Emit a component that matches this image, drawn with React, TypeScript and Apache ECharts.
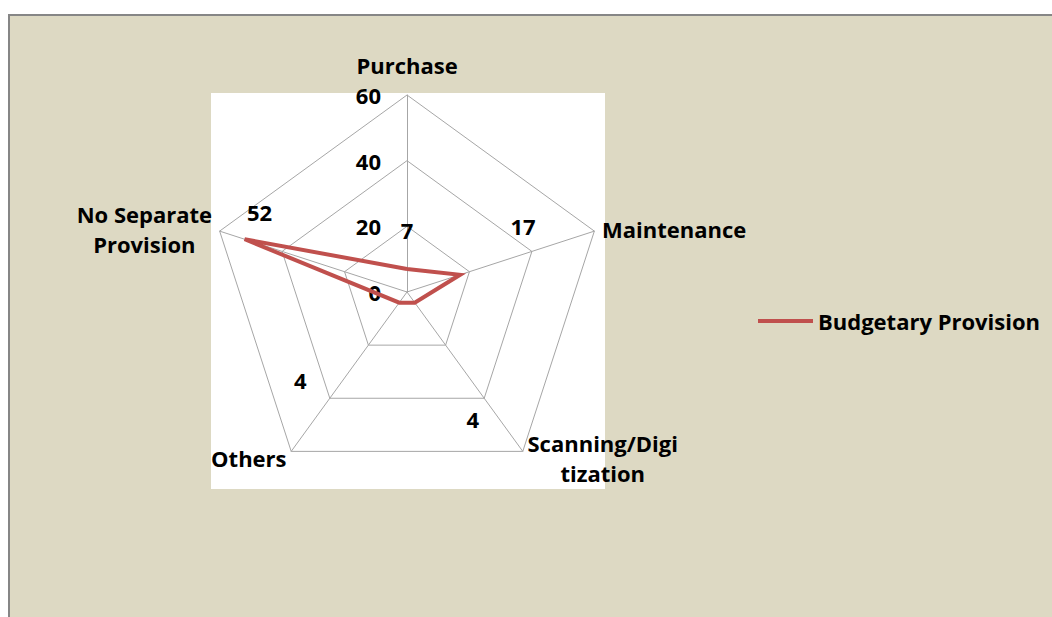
import React, { useEffect, useRef } from 'react';
import * as echarts from 'echarts';

// ---- data ----
const categories = ['Purchase', 'Maintenance', 'Scanning/Digi\ntization', 'Others', 'No Separate\nProvision'];
const budgetaryProvision = [7, 17, 4, 4, 52];
const seriesName = 'Budgetary Provision';
const axisMin = 0;
const axisMax = 60;
const axisSplits = 3;

// ---- layout / style ----
const FONT = '"Open Sans", Lato, sans-serif';
const FONT_SIZE = 22;
const LINE_COLOR = '#C0504D';
const GRID_COLOR = '#a6a6a6';
// data label nudges (px) relative to each point, in category order
const labelOffsets: [number, number][] = [[0, -39], [63, -48.5], [58, 116], [-99, 77], [15, -27.5]];

export default function App() {
  const ref = useRef<HTMLDivElement>(null);

  useEffect(() => {
    const chart = echarts.init(ref.current!, null, { renderer: 'svg' });
    // ECharts lays indicators counter-clockwise; reorder for clockwise layout
    const order = [0, 4, 3, 2, 1];
    const textBase = {
      fontFamily: FONT,
      fontSize: FONT_SIZE,
      fontWeight: 'bold' as const,
      color: '#000',
      lineHeight: 30,
    };
    const indicator = order.map((i, k) => ({
      name: categories[i],
      min: axisMin,
      max: axisMax,
      ...(k === 0
        ? { axisLabel: { show: true, margin: 26, ...textBase, showMinLabel: true, showMaxLabel: true } }
        : {}),
    }));

    const plotBg = {
      type: 'rect',
      id: 'plotbg',
      z: -10,
      silent: true,
      shape: { x: 201, y: 77, width: 394, height: 396 },
      style: { fill: '#ffffff' },
    };

    chart.setOption({
      animation: false,
      backgroundColor: 'transparent',
      graphic: [plotBg],
      legend: {
        data: [seriesName],
        left: 748,
        top: 294,
        padding: 0,
        itemWidth: 55,
        itemHeight: 4,
        icon: 'rect',
        itemStyle: { color: LINE_COLOR },
        textStyle: { ...textBase, lineHeight: 22 },
      },
      radar: {
        center: [397, 276],
        radius: 197,
        startAngle: 90,
        shape: 'polygon',
        splitNumber: axisSplits,
        nameGap: 8,
        indicator,
        axisName: {
          show: true,
          ...textBase,
          formatter: (name: string) =>
            name
              .split('\n')
              .map((s) => `{c|${s}}`)
              .join('\n'),
          rich: {
            c: { ...textBase, align: 'center' },
          },
        },
        axisLabel: { show: false },
        axisTick: { show: false },
        axisLine: { show: true, lineStyle: { color: GRID_COLOR, width: 1 } },
        splitLine: { show: true, lineStyle: { color: GRID_COLOR, width: 1 } },
        splitArea: { show: false },
      },
      series: [
        {
          type: 'radar',
          name: seriesName,
          symbol: 'none',
          lineStyle: { color: LINE_COLOR, width: 4, join: 'miter' },
          itemStyle: { color: LINE_COLOR },
          data: [{ name: seriesName, value: order.map((i) => budgetaryProvision[i]) }],
        },
      ],
    });

    // data labels, positioned from the radar coordinate system
    try {
      const radarCS = (chart as any).getModel().getComponent('radar').coordinateSystem;
      const labels = order.map((i, k) => {
        const [x, y] = radarCS.dataToPoint(budgetaryProvision[i], k);
        return {
          type: 'text',
          id: 'dl' + i,
          x: x + labelOffsets[i][0],
          y: y + labelOffsets[i][1],
          silent: true,
          z: 10,
          style: {
            text: String(budgetaryProvision[i]),
            fill: '#000',
            font: `bold ${FONT_SIZE}px ${FONT}`,
            align: 'center',
            verticalAlign: 'middle',
          },
        };
      });
      chart.setOption({ graphic: [plotBg, ...labels] });
    } catch (e) {
      // ignore
    }

    return () => chart.dispose();
  }, []);

  return (
    <div
      style={{
        position: 'absolute',
        left: 8,
        top: 14,
        width: 1044,
        height: 603,
        boxSizing: 'border-box',
        borderLeft: '2px solid #868686',
        borderTop: '2px solid #868686',
        background: '#DDD9C3',
        overflow: 'hidden',
      }}
    >
      <div ref={ref} style={{ width: 1042, height: 601 }} />
    </div>
  );
}
